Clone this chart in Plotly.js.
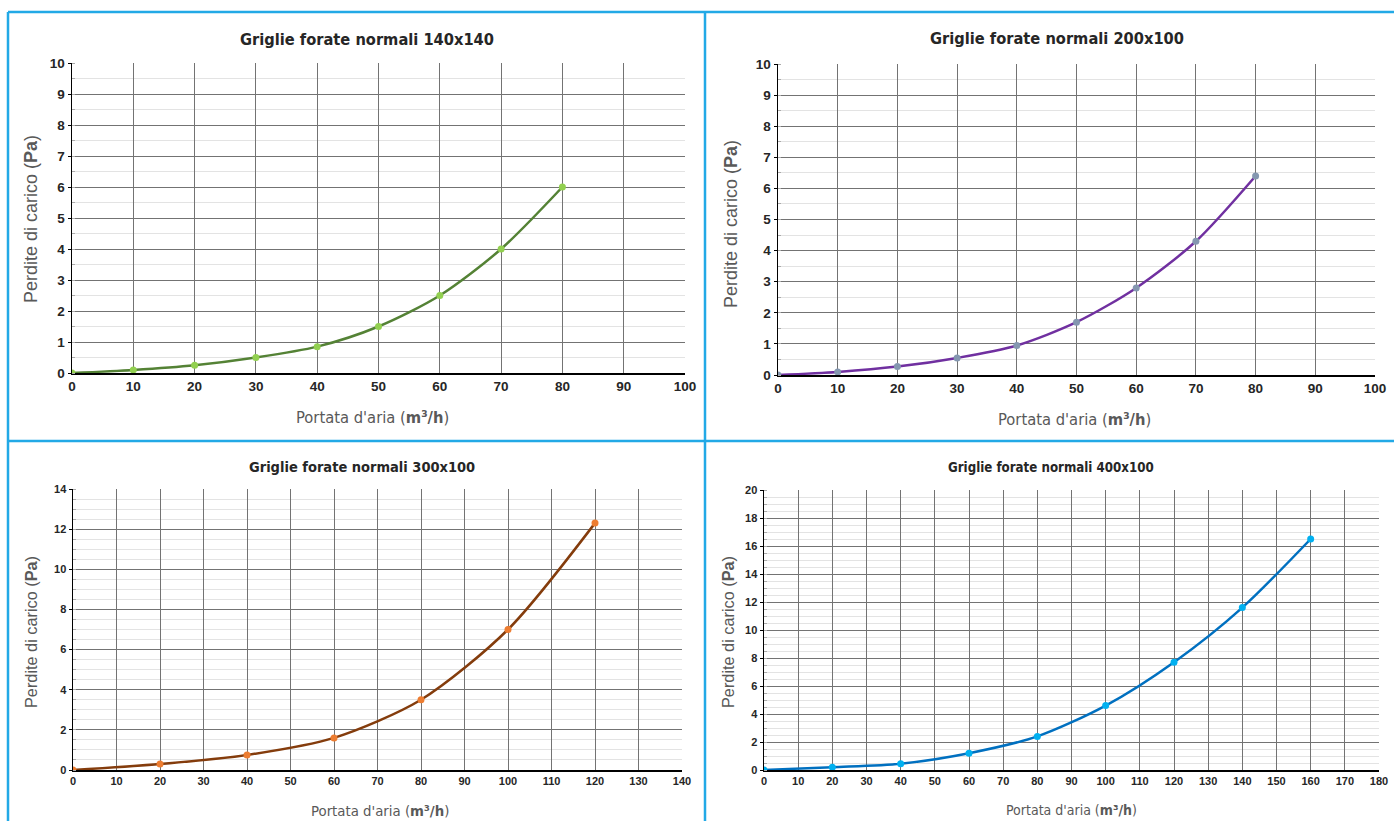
<!DOCTYPE html>
<html><head><meta charset="utf-8">
<script src="https://cdn.plot.ly/plotly-3.0.1.min.js"></script>
<style>html,body{margin:0;padding:0;background:#fff;overflow:hidden}#chart{width:1394px;height:821px}</style>
</head><body><div id="chart"></div>
<script>
// ---- data ----
const chartTitles = ["Griglie forate normali 140x140", "Griglie forate normali 200x100", "Griglie forate normali 300x100", "Griglie forate normali 400x100"];
const yTitle = "Perdite di carico (<b>Pa</b>)";
const xTitle = "Portata d'aria (<b>m³/h</b>)";

const x140 = [0, 10, 20, 30, 40, 50, 60, 70, 80];
const y140 = [0, 0.1, 0.25, 0.5, 0.85, 1.5, 2.5, 4.0, 6.0];

const x200 = [0, 10, 20, 30, 40, 50, 60, 70, 80];
const y200 = [0, 0.1, 0.27, 0.55, 0.95, 1.7, 2.8, 4.3, 6.4];

const x300 = [0, 20, 40, 60, 80, 100, 120];
const y300 = [0, 0.3, 0.75, 1.6, 3.5, 7.0, 12.3];

const x400 = [0, 20, 40, 60, 80, 100, 120, 140, 160];
const y400 = [0, 0.2, 0.45, 1.2, 2.4, 4.6, 7.7, 11.6, 16.5];

const xRanges = [[0, 100], [0, 100], [0, 140], [0, 180]];
const yRanges = [[0, 10], [0, 10], [0, 14], [0, 20]];
const yDticks = [1, 1, 2, 2];

// ---- layout helpers ----
const W = 1394, H = 821;
const fx = v => v / W, fy = v => 1 - v / H;

const lineColors = ['#548235', '#7030a0', '#843c0c', '#0070c0'];
const markerColors = ['#92d050', '#8497b0', '#ed7d31', '#00b0f0'];
const xs = [x140, x200, x300, x400];
const ys = [y140, y200, y300, y400];

// plot areas in pixels: [left, right, top, bottom]
const boxes = [[72, 685, 63, 373], [778, 1375, 64, 375], [73, 682, 489, 770], [764, 1379, 490, 770]];
const tickSize = [13.5, 13.5, 11, 11];

const narrow = 'Liberation Sans Narrow, Arial Narrow, DejaVu Sans Condensed, sans-serif';
const sans = 'Liberation Sans, Arial, sans-serif';

const traces = [];
const layout = {
  width: W, height: H,
  margin: {l: 0, r: 0, t: 0, b: 0},
  paper_bgcolor: '#ffffff', plot_bgcolor: '#ffffff',
  showlegend: false,
  annotations: [], shapes: []
};

for (let i = 0; i < 4; i++) {
  const n = i === 0 ? '' : String(i + 1);
  traces.push({
    x: xs[i], y: ys[i], type: 'scatter', mode: 'lines+markers',
    xaxis: 'x' + n, yaxis: 'y' + n,
    line: {color: lineColors[i], width: 2.5, shape: 'spline', smoothing: 0.8},
    marker: {color: markerColors[i], size: 7},
    hoverinfo: 'x+y'
  });
  const b = boxes[i];
  layout['xaxis' + n] = {
    domain: [fx(b[0]), fx(b[1])], anchor: 'y' + n,
    range: xRanges[i], dtick: 10, tick0: 0,
    showgrid: true, gridcolor: '#737373', gridwidth: 1,
    zeroline: false, showline: true, linecolor: '#000000', linewidth: 2,
    ticks: '', ticklen: 0,
    tickfont: {family: sans, size: tickSize[i], color: '#262626', weight: 'bold'},
    fixedrange: true
  };
  layout['yaxis' + n] = {
    domain: [fy(b[3]), fy(b[2])], anchor: 'x' + n,
    range: yRanges[i], dtick: yDticks[i], tick0: 0,
    showgrid: true, gridcolor: '#737373', gridwidth: 1,
    minor: {dtick: 0.5, showgrid: true, gridcolor: '#e3e3e3', gridwidth: 1, ticks: 'inside', ticklen: 3, tickcolor: '#aaaaaa'},
    zeroline: false, showline: true, linecolor: '#000000', linewidth: 1.5,
    ticks: 'outside', ticklen: 3, tickcolor: '#000000',
    tickfont: {family: sans, size: tickSize[i], color: '#262626', weight: 'bold'},
    fixedrange: true
  };
}

// titles
const titlePos = [[367, 40, 16.3], [1057, 38, 16.3], [362, 467, 14.5], [1051, 467, 13.2]];
const yTitlePos = [[31, 219, 18], [731, 224, 18], [31, 632, 16.3], [728, 632, 16.3]];
const xTitlePos = [[372, 417, 16.4], [1074, 420, 16.4], [380, 810, 14.8], [1071, 810, 14]];
for (let i = 0; i < 4; i++) {
  layout.annotations.push({
    text: chartTitles[i], xref: 'paper', yref: 'paper',
    x: fx(titlePos[i][0]), y: fy(titlePos[i][1]), xanchor: 'center', yanchor: 'middle',
    showarrow: false, font: {family: narrow, size: titlePos[i][2], color: '#262626', weight: 'bold'}
  });
  layout.annotations.push({
    text: yTitle, xref: 'paper', yref: 'paper', textangle: -90,
    x: fx(yTitlePos[i][0]), y: fy(yTitlePos[i][1]), xanchor: 'center', yanchor: 'middle',
    showarrow: false, font: {family: sans, size: yTitlePos[i][2], color: '#595959'}
  });
  layout.annotations.push({
    text: xTitle, xref: 'paper', yref: 'paper',
    x: fx(xTitlePos[i][0]), y: fy(xTitlePos[i][1]), xanchor: 'center', yanchor: 'middle',
    showarrow: false, font: {family: narrow, size: xTitlePos[i][2], color: '#595959'}
  });
}

// panel borders
const border = {color: '#22a9e6', width: 2.5};
layout.shapes.push(
  {type: 'line', xref: 'paper', yref: 'paper', x0: fx(8), x1: 1, y0: fy(12), y1: fy(12), line: border},
  {type: 'line', xref: 'paper', yref: 'paper', x0: fx(8), x1: 1, y0: fy(441), y1: fy(441), line: border},
  {type: 'line', xref: 'paper', yref: 'paper', x0: fx(8), x1: fx(8), y0: fy(12), y1: 0, line: border},
  {type: 'line', xref: 'paper', yref: 'paper', x0: fx(705), x1: fx(705), y0: fy(12), y1: 0, line: border}
);

Plotly.newPlot('chart', traces, layout, {displayModeBar: false, staticPlot: true});
</script></body></html>
